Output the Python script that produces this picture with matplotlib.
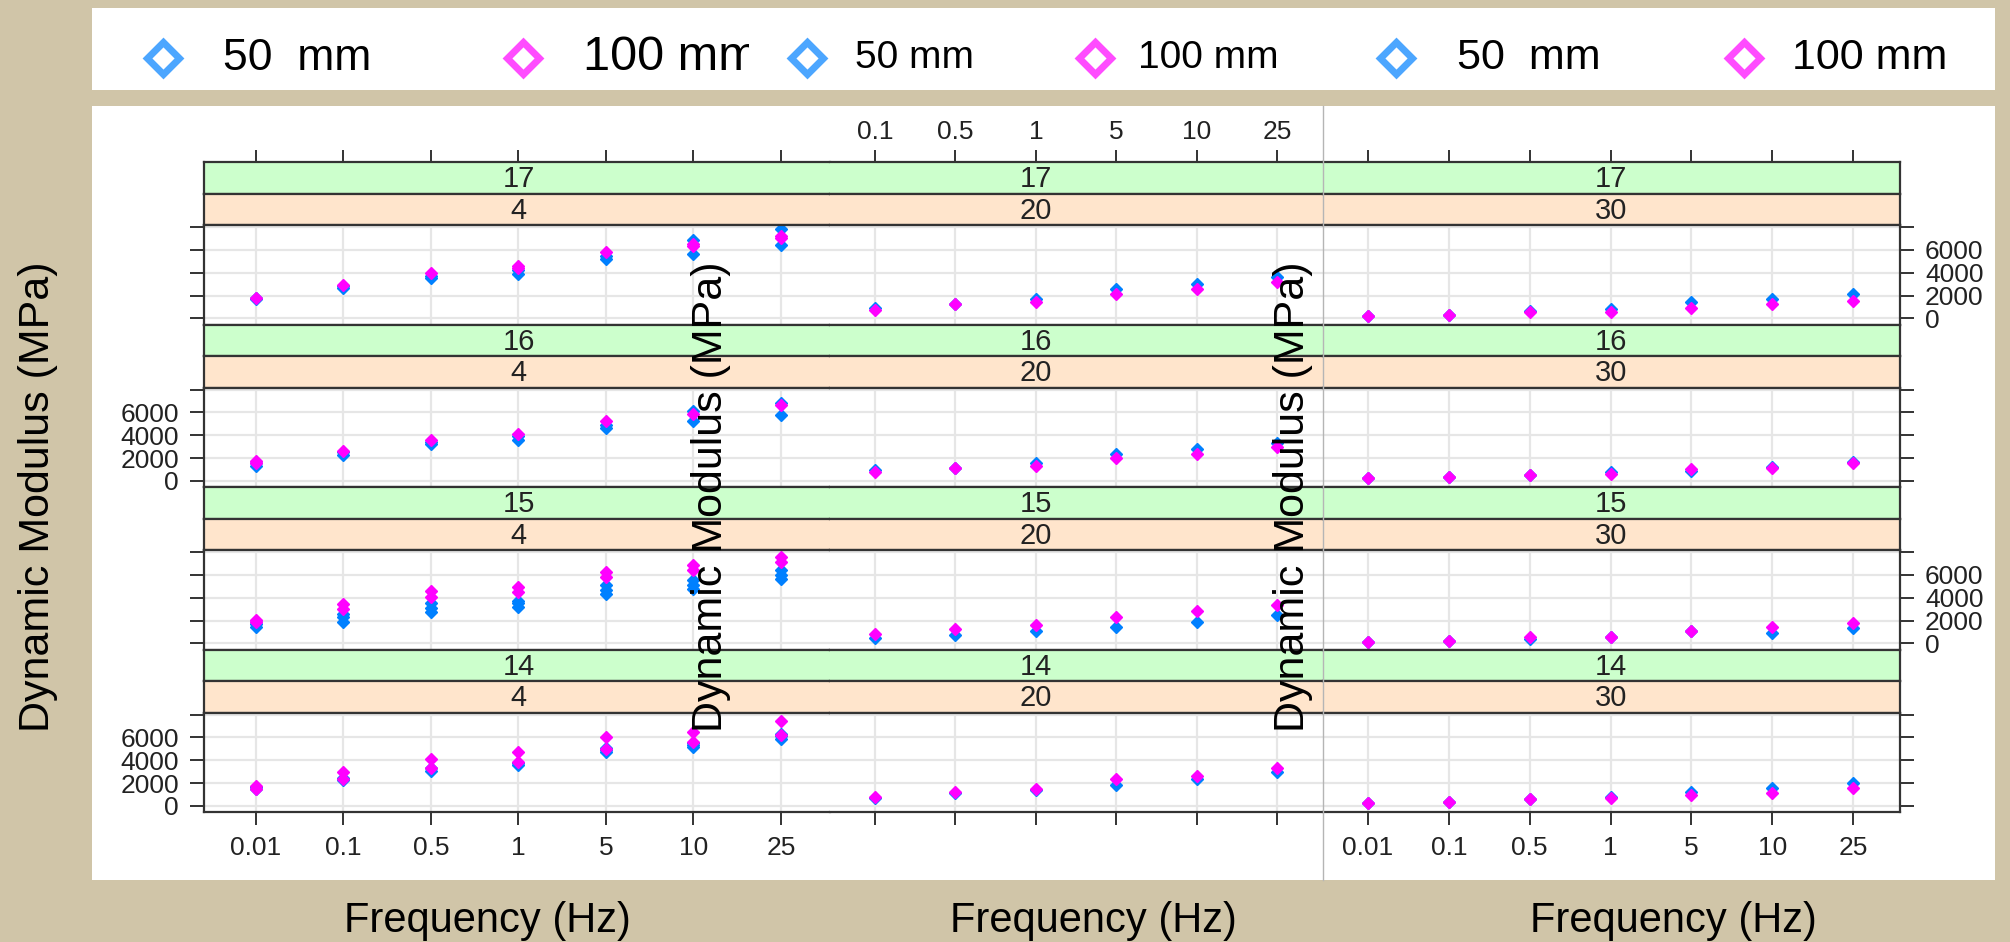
import matplotlib.pyplot as plt
from matplotlib.patches import Rectangle
from matplotlib.lines import Line2D

plt.rcParams['font.family'] = ['Liberation Sans', 'DejaVu Sans']

# 데이터 (그림에서 읽은 값, MPa)
freq_labels = ['0.01', '0.1', '0.5', '1', '5', '10', '25']
strip_top = ['17', '16', '15', '14']
temps = ['4', '20', '30']

# 4 C
mm50_t4_17 = [[1700, 1800], [2700, 2850], [3500, 3750], [3900, 4250], [5200, 5450], [5650, 6850], [6450, 7850]]
mm100_t4_17 = [[1800], [2950], [3950], [4450, 4600], [5800], [6300, 6550], [7000, 7200]]
mm50_t4_16 = [[1300, 1600], [2300, 2500], [3200, 3400], [3600, 3900], [4650, 4900], [5250, 6100], [5800, 6850]]
mm100_t4_16 = [[1600, 1750], [2650], [3550], [4150], [5250], [5850], [6650]]
mm50_t4_15 = [[1400, 1700, 1900], [1850, 2300, 2600], [2750, 3100, 3500], [3200, 3500, 3750],
              [4350, 4700, 5100], [4800, 5150, 5550], [5650, 6000, 6400]]
mm100_t4_15 = [[1900, 2050], [3050, 3450], [4050, 4600], [4500, 4950], [5800, 6250], [6400, 6850], [7150, 7600]]
mm50_t4_14 = [[1500, 1650], [2250, 2450], [3100, 3300], [3550, 3750], [4700, 4900, 5100], [5150, 5350, 5500], [5900, 6100, 6300]]
mm100_t4_14 = [[1500, 1750], [2400, 2950], [3350, 4100], [3850, 4700], [5000, 6000], [5600, 6500], [6200, 7400]]

# 20 C (0.01 Hz 잘려서 없음)
mm50_t20_17 = [[], [950], [1250], [1700], [2600], [3000], [3600]]
mm100_t20_17 = [[], [700], [1250], [1400], [2150], [2600], [3200]]
mm50_t20_16 = [[], [1000], [1150], [1550], [2350], [2800], [3350]]
mm100_t20_16 = [[], [750], [1100], [1350], [2000], [2350], [2950]]
mm50_t20_15 = [[], [450], [700], [1050], [1450], [1900], [2450]]
mm100_t20_15 = [[], [820], [1300], [1600], [2350], [2800], [3400]]
mm50_t20_14 = [[], [700], [1150], [1400], [1800], [2350], [3000]]
mm100_t20_14 = [[], [750], [1200], [1450], [2350], [2650], [3300]]

# 30 C
mm50_t30_17 = [[200], [300], [650], [800], [1400], [1700], [2100]]
mm100_t30_17 = [[200], [280], [530], [550], [950], [1250], [1550]]
mm50_t30_16 = [[300], [350], [550], [800], [900], [1200], [1650]]
mm100_t30_16 = [[280], [350], [520], [650], [1050], [1180], [1600]]
mm50_t30_15 = [[150], [200], [350], [600], [1050], [950], [1350]]
mm100_t30_15 = [[150], [250], [600], [600], [1050], [1400], [1750]]
mm50_t30_14 = [[250], [350], [600], [750], [1250], [1550], [2000]]
mm100_t30_14 = [[230], [350], [580], [720], [970], [1150], [1550]]

data50 = [[mm50_t4_17, mm50_t4_16, mm50_t4_15, mm50_t4_14],
          [mm50_t20_17, mm50_t20_16, mm50_t20_15, mm50_t20_14],
          [mm50_t30_17, mm50_t30_16, mm50_t30_15, mm50_t30_14]]
data100 = [[mm100_t4_17, mm100_t4_16, mm100_t4_15, mm100_t4_14],
           [mm100_t20_17, mm100_t20_16, mm100_t20_15, mm100_t20_14],
           [mm100_t30_17, mm100_t30_16, mm100_t30_15, mm100_t30_14]]

W, H = 2010, 942
BLUE = '#0080ff'
MAG = '#ff00ff'
LINE = '#333333'


def frac(x0, y0, x1, y1):
    # 픽셀 좌표 -> figure 좌표
    return [x0 / W, 1 - y1 / H, (x1 - x0) / W, (y1 - y0) / H]


fig = plt.figure(figsize=(W / 100, H / 100), dpi=100, facecolor='#d0c5a8')

# 흰 배경 영역 (범례 띠 + 그래프)
fig.add_artist(Rectangle((92 / W, 1 - 90 / H), (1995 - 92) / W, 82 / H,
                         transform=fig.transFigure, facecolor='white', edgecolor='none', zorder=-5))
fig.add_artist(Rectangle((92 / W, 1 - 880 / H), (1995 - 92) / W, (880 - 106) / H,
                         transform=fig.transFigure, facecolor='white', edgecolor='none', zorder=-5))

col_x = [(204, 830), (830, 1323), (1323, 1900)]
col_xlim = [(0.406, 7.56), (1.44, 7.57), (0.443, 7.58)]
row_top = [162, 324.5, 487, 649.5]
strip_h = 31.5
panel_h = 99.5
xs = list(range(1, 8))
TICK_FS = 19

for c in range(3):
    x0, x1 = col_x[c]
    for r in range(4):
        t = row_top[r]
        # 스트립 두 개 (초록, 주황)
        for k, (col, lab) in enumerate([('#ccffcc', strip_top[r]), ('#ffe5cc', temps[c])]):
            sa = fig.add_axes(frac(x0, t + k * strip_h, x1, t + (k + 1) * strip_h), facecolor=col)
            sa.set_yticks([])
            if r == 0 and k == 0:
                sa.set_xticks(xs)
                sa.set_xticklabels(freq_labels)
                sa.xaxis.tick_top()
                sa.tick_params(axis='x', direction='out', length=9, width=1.4, color=LINE,
                               labelsize=TICK_FS, labelcolor='#222222', pad=4, labeltop=(c == 1))
            else:
                sa.set_xticks([])
            sa.set_xlim(col_xlim[c])
            sa.set_ylim(0, 1)
            sa.text(4, 0.45, lab, ha='center', va='center', fontsize=21, color='#222222')
            for s in sa.spines.values():
                s.set_linewidth(1.6)
                s.set_color(LINE)
            sa.spines['left'].set_visible(c == 0)
            sa.spines['right'].set_visible(c == 2)

        # 패널
        ax = fig.add_axes(frac(x0, t + 2 * strip_h, x1, t + 2 * strip_h + panel_h), facecolor='white')
        ax.set_xticks(xs)
        ax.set_xticklabels(freq_labels)
        ax.set_yticks([0, 2000, 4000, 6000, 8000])
        ax.set_yticklabels(['0', '2000', '4000', '6000', ''])
        ax.set_xlim(col_xlim[c])
        ax.set_ylim(-525, 8175)
        ax.grid(True, color='#e6e6e6', lw=1.6)
        ax.set_axisbelow(True)
        for s in ax.spines.values():
            s.set_linewidth(1.6)
            s.set_color(LINE)
        ax.spines['left'].set_visible(c == 0)
        ax.spines['right'].set_visible(c == 2)
        ax.tick_params(axis='x', direction='out', length=9.5, width=1.4, color=LINE,
                       bottom=(r == 3), labelbottom=(r == 3 and c != 1),
                       labelsize=TICK_FS, labelcolor='#222222', pad=8)
        ax.tick_params(axis='y', direction='out', length=10, width=1.4, color=LINE,
                       left=(c == 0), right=(c == 2),
                       labelleft=(c == 0 and r % 2 == 1), labelright=(c == 2 and r % 2 == 0),
                       labelsize=TICK_FS, labelcolor='#222222', pad=8)

        for vals, colr in [(data50[c][r], BLUE), (data100[c][r], MAG)]:
            px, py = [], []
            for i, v in enumerate(vals):
                for y in v:
                    px.append(xs[i])
                    py.append(y)
            ax.plot(px, py, 'D', color=colr, ms=6, mec=colr, clip_on=True)

# 스크린샷 경계선
fig.add_artist(Line2D([1323 / W, 1323 / W], [1 - 880 / H, 1 - 106 / H],
                      transform=fig.transFigure, color='#b5b5b5', lw=1))

# 축 제목
for xc in [487, 1093, 1673]:
    fig.text(xc / W, 1 - 921 / H, 'Frequency (Hz)', ha='center', va='center', fontsize=30)
for xc in [38, 711, 1293]:
    fig.text(xc / W, 1 - 497 / H, 'Dynamic Modulus (MPa)', ha='center', va='center',
             rotation=90, fontsize=31, zorder=6)

# 범례 (여러 장 붙여 놓은 형태)
legend_items = [(163, 223, BLUE, '50  mm', 32), (523, 583, MAG, '100 mm', 35),
                (807, 855, BLUE, '50 mm', 28), (1095, 1138, MAG, '100 mm', 28),
                (1396, 1457, BLUE, '50  mm', 31), (1744, 1792, MAG, '100 mm', 31)]
for mx, tx, colr, lab, fs in legend_items:
    fig.add_artist(Line2D([mx / W], [1 - 58 / H], transform=fig.transFigure, marker='D', ms=16,
                          mfc='white', mec=colr, mew=5, alpha=0.7, ls='none', zorder=3))
    fig.text(tx / W, 1 - 58 / H, lab, ha='left', va='center', fontsize=fs, zorder=3)
# 두 번째 항목 글자 잘린 부분 가리기
fig.add_artist(Rectangle((749 / W, 1 - 88 / H), 34 / W, 70 / H, transform=fig.transFigure,
                         facecolor='white', edgecolor='none', zorder=4))

plt.savefig('out.png', dpi=100, facecolor=fig.get_facecolor())
